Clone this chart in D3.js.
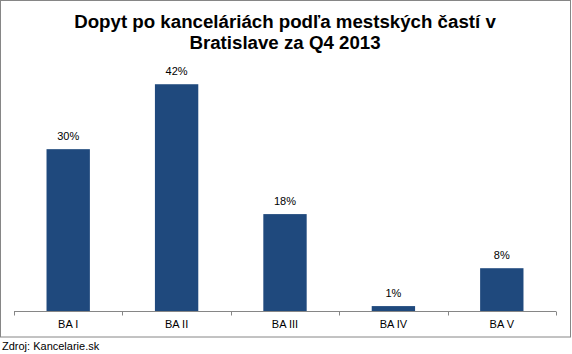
<!DOCTYPE html>
<html>
<head>
<meta charset="utf-8">
<script src="https://cdn.jsdelivr.net/npm/d3@7"></script>
<style>
  html, body { margin: 0; padding: 0; background: #fff; }
  svg { display: block; font-family: "Liberation Sans", Arial, sans-serif; }
</style>
</head>
<body>
<svg id="chart"></svg>
<script>
const categories = ["BA I", "BA II", "BA III", "BA IV", "BA V"];
const shares = [30, 42, 18, 1, 8];
const titleLines = ["Dopyt po kanceláriách podľa mestských častí v", "Bratislave za Q4 2013"];
const sourceText = "Zdroj: Kancelarie.sk";

(function () {
    const W = 572, H = 354;
    const plot = { left: 14, right: 556, top: 68, bottom: 311.5 };

    const svg = d3.select("#chart").attr("width", W).attr("height", H);

    // outer frame
    svg.append("rect")
        .attr("x", 0.5).attr("y", 0.5)
        .attr("width", 570).attr("height", 336.5)
        .attr("fill", "#fff")
        .attr("stroke", "#868686");

    // title
    svg.append("text")
        .attr("x", 285)
        .attr("text-anchor", "middle")
        .attr("font-size", "18.7px")
        .attr("font-weight", "bold")
        .attr("fill", "#000")
        .selectAll("tspan")
        .data(titleLines)
        .join("tspan")
        .attr("x", 285)
        .attr("y", (d, i) => 28 + i * 21)
        .text(d => d);

    const x = d3.scaleBand()
        .domain(categories)
        .range([plot.left, plot.right])
        .paddingInner(0.6)
        .paddingOuter(0.3);
    const xEdges = d3.scaleLinear().domain([0, categories.length]).range([plot.left, plot.right]);
    const y = d3.scaleLinear().domain([0, 45]).range([plot.bottom, plot.top]);

    const data = categories.map((c, i) => ({ cat: c, val: shares[i] }));

    svg.selectAll("rect.bar")
        .data(data)
        .join("rect")
        .attr("class", "bar")
        .attr("x", d => x(d.cat))
        .attr("width", x.bandwidth())
        .attr("y", d => y(d.val))
        .attr("height", d => y(0) - y(d.val))
        .attr("fill", "#1F497D");

    // value labels
    svg.selectAll("text.lbl")
        .data(data)
        .join("text")
        .attr("class", "lbl")
        .attr("x", d => x(d.cat) + x.bandwidth() / 2)
        .attr("y", d => y(d.val) - 9)
        .attr("text-anchor", "middle")
        .attr("font-size", "11px")
        .attr("fill", "#000")
        .text(d => d.val + "%");

    // x axis with ticks between categories
    const ax = svg.append("g");
    ax.append("line")
        .attr("x1", plot.left).attr("x2", plot.right)
        .attr("y1", plot.bottom).attr("y2", plot.bottom)
        .attr("stroke", "#868686");
    ax.selectAll("line.tick")
        .data(d3.range(categories.length + 1))
        .join("line")
        .attr("class", "tick")
        .attr("x1", d => Math.round(xEdges(d)) + 0.5)
        .attr("x2", d => Math.round(xEdges(d)) + 0.5)
        .attr("y1", plot.bottom).attr("y2", plot.bottom + 4)
        .attr("stroke", "#868686");
    ax.selectAll("text")
        .data(categories)
        .join("text")
        .attr("x", d => x(d) + x.bandwidth() / 2)
        .attr("y", 328)
        .attr("text-anchor", "middle")
        .attr("font-size", "11px")
        .attr("fill", "#000")
        .text(d => d);

    // source
    svg.append("text")
        .attr("x", 2)
        .attr("y", 350)
        .attr("font-size", "11px")
        .attr("fill", "#000")
        .text(sourceText);
})();
</script>
</body>
</html>
